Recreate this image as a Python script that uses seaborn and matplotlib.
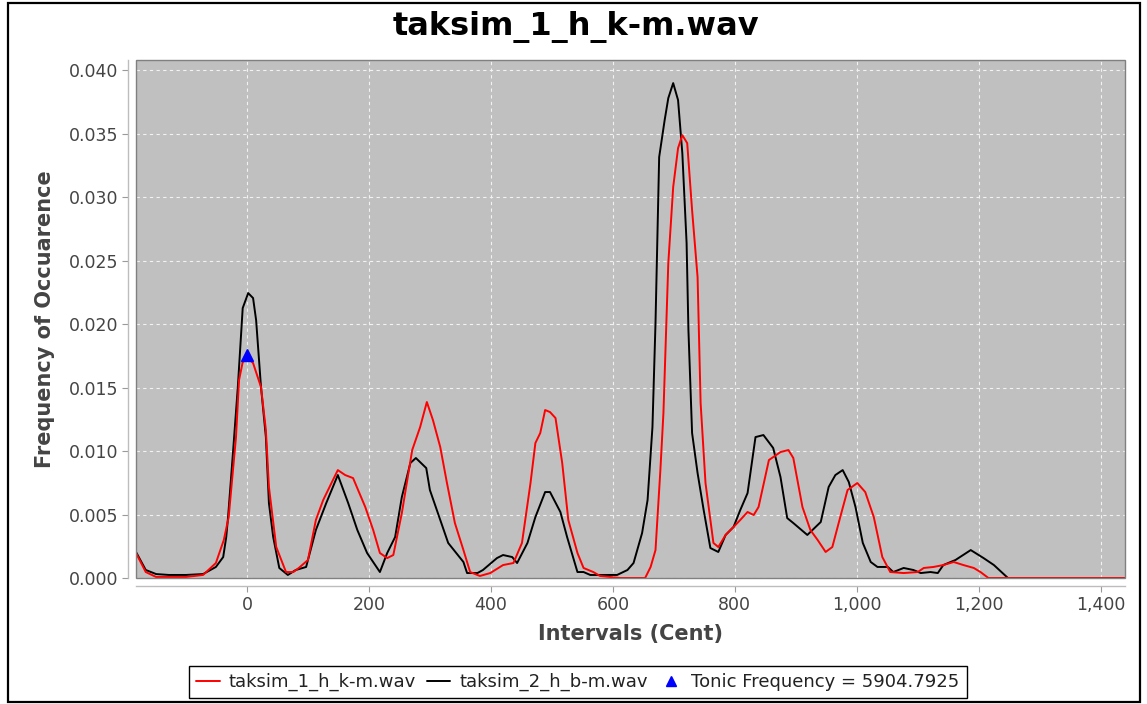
import matplotlib
matplotlib.use("Agg")
import matplotlib.pyplot as plt
from matplotlib.lines import Line2D
from matplotlib.patches import Rectangle
from matplotlib.ticker import FuncFormatter, MultipleLocator
import pandas as pd
import seaborn as sns

# Interval histograms (cents vs. relative frequency of occurrence)
cents_1 = [-182, -166, -149, -100, -72, -51, -38, -30, -18, -13, -7, 2, 10, 23, 31, 36, 48, 64,
           76, 85, 100, 113, 125, 141, 149, 161, 174, 194, 207, 218, 230, 240, 254, 271, 284,
           295, 305, 317, 328, 341, 355, 366, 382, 399, 420, 437, 451, 465, 473, 481, 489, 497,
           506, 517, 527, 542, 552, 568, 579, 612, 653, 662, 670, 678, 683, 691, 699, 707, 714,
           722, 730, 739, 744, 752, 765, 773, 785, 798, 809, 821, 831, 839, 856, 875, 888, 896,
           911, 924, 936, 949, 960, 973, 985, 1001, 1014, 1028, 1042, 1055, 1077, 1100, 1110,
           1126, 1142, 1159, 1175, 1192, 1203, 1216, 1300, 1440]
freq_1 = [0.00197, 0.00047, 0.00008, 0.00008, 0.00024, 0.00118, 0.00299, 0.0048, 0.0111, 0.01559,
          0.01701, 0.01732, 0.01693, 0.01504, 0.01165, 0.00717, 0.00244, 0.00047, 0.00047, 0.00079,
          0.00142, 0.00457, 0.00614, 0.00772, 0.0085, 0.00811, 0.00787, 0.00559, 0.00378, 0.00197,
          0.00157, 0.00181, 0.00512, 0.01008, 0.01189, 0.01386, 0.01244, 0.01031, 0.00748, 0.00433,
          0.0022, 0.00047, 0.00016, 0.00039, 0.00102, 0.00118, 0.00276, 0.00748, 0.01063, 0.01142,
          0.01323, 0.01307, 0.0126, 0.00906, 0.00457, 0.00197, 0.00079, 0.00047, 0.00016, 0.0,
          0.0, 0.00087, 0.0022, 0.0085, 0.01299, 0.0248, 0.03079, 0.03386, 0.03488, 0.03425,
          0.02898, 0.0237, 0.01378, 0.00748, 0.00276, 0.00244, 0.00339, 0.00402, 0.00457, 0.0052,
          0.00496, 0.00559, 0.00929, 0.00992, 0.01008, 0.00945, 0.00559, 0.00378, 0.00299, 0.00205,
          0.00244, 0.0048, 0.00693, 0.00748, 0.00677, 0.0048, 0.00165, 0.00047, 0.00039, 0.00047,
          0.00079, 0.00087, 0.00102, 0.00126, 0.00102, 0.00079, 0.00047, 0.0, 0.0, 0.0]

cents_2 = [-182, -166, -149, -128, -100, -72, -51, -39, -34, -31, -23, -15, -7, 2, 10, 15, 23, 31,
           36, 43, 53, 67, 80, 97, 113, 130, 149, 166, 181, 197, 218, 230, 243, 254, 268, 277,
           294, 300, 317, 330, 355, 361, 378, 387, 410, 420, 435, 443, 460, 473, 489, 497, 514,
           525, 542, 552, 563, 579, 607, 624, 634, 648, 657, 665, 670, 676, 685, 691, 699, 707,
           714, 721, 724, 730, 739, 749, 760, 773, 785, 798, 809, 821, 834, 847, 863, 875, 886,
           896, 919, 941, 954, 965, 977, 987, 998, 1010, 1023, 1034, 1051, 1060, 1077, 1093,
           1105, 1121, 1133, 1142, 1154, 1162, 1187, 1208, 1225, 1248, 1300, 1440]
freq_2 = [0.00205, 0.00063, 0.00031, 0.00024, 0.00024, 0.00031, 0.00087, 0.00165, 0.00323, 0.0048,
          0.00984, 0.01504, 0.02126, 0.02244, 0.02205, 0.02031, 0.01504, 0.0111, 0.0059, 0.00323,
          0.00079, 0.00024, 0.00063, 0.00087, 0.00378, 0.0059, 0.00811, 0.0059, 0.00378, 0.00197,
          0.00047, 0.00197, 0.00323, 0.00638, 0.00906, 0.00945, 0.00866, 0.00693, 0.00457, 0.00276,
          0.00126, 0.00039, 0.00039, 0.00063, 0.00157, 0.00181, 0.00165, 0.00118, 0.00276, 0.0048,
          0.00677, 0.00677, 0.0052, 0.00323, 0.00047, 0.00047, 0.00024, 0.00024, 0.00024, 0.00063,
          0.00118, 0.00354, 0.00614, 0.01189, 0.02008, 0.03315, 0.03606, 0.0378, 0.03898, 0.03764,
          0.03346, 0.02638, 0.01953, 0.01142, 0.00827, 0.00535, 0.00236, 0.00205, 0.00339, 0.00402,
          0.00535, 0.00669, 0.0111, 0.01126, 0.01024, 0.00795, 0.00472, 0.00433, 0.00339, 0.00441,
          0.00717, 0.00811, 0.0085, 0.00756, 0.00559, 0.00276, 0.00126, 0.00087, 0.00087, 0.00047,
          0.00079, 0.00063, 0.00039, 0.00047, 0.00039, 0.00102, 0.00126, 0.00142, 0.0022, 0.00157,
          0.00102, 0.0, 0.0, 0.0]

series_names = ["taksim_1_h_k-m.wav", "taksim_2_h_b-m.wav"]
series_colors = ["#ff0000", "#000000"]
tonic_cent = 0
tonic_freq = 0.0176
tonic_label = "Tonic Frequency = 5904.7925"

df1 = pd.DataFrame({"cent": cents_1, "freq": freq_1})
df2 = pd.DataFrame({"cent": cents_2, "freq": freq_2})

sns.set_theme(style="white")
plt.rcParams["font.family"] = ["DejaVu Sans"]

fig = plt.figure(figsize=(11.47, 7.04), dpi=100)
ax = fig.add_axes([136 / 1147, 1 - 578 / 704, (1125 - 136) / 1147, (578 - 60) / 704])
ax.set_facecolor("#c0c0c0")

# second file drawn first so the first file sits on top
sns.lineplot(data=df2, x="cent", y="freq", color=series_colors[1], lw=1.4,
             estimator=None, sort=False, ax=ax, zorder=3)
sns.lineplot(data=df1, x="cent", y="freq", color=series_colors[0], lw=1.4,
             estimator=None, sort=False, ax=ax, zorder=4)
ax.plot([tonic_cent], [tonic_freq], linestyle="none", marker="^", color="#0000ff",
        markersize=8.5, zorder=5)

ax.set_xlim(-182, 1440)
ax.set_ylim(0, 0.0408)
ax.xaxis.set_major_locator(MultipleLocator(200))
ax.yaxis.set_major_locator(MultipleLocator(0.005))
ax.xaxis.set_major_formatter(FuncFormatter(lambda v, p: f"{v:,.0f}"))
ax.yaxis.set_major_formatter(FuncFormatter(lambda v, p: f"{v:.3f}"))
ax.grid(True, color="#f2f2f2", linestyle=(0, (3, 3)), linewidth=0.8)
ax.set_axisbelow(True)

for side in ("top", "right"):
    ax.spines[side].set_visible(False)
ax.spines["left"].set_position(("outward", 6))
ax.spines["bottom"].set_position(("outward", 6))
for side in ("left", "bottom"):
    ax.spines[side].set_color("#bdbdbd")
    ax.spines[side].set_linewidth(1.0)
ax.tick_params(axis="both", which="major", direction="out", length=4, width=0.8,
               color="#9a9a9a", labelsize=12.5, labelcolor="#444444", pad=3,
               left=True, bottom=True)

# plot outline
ax.add_patch(Rectangle((0, 0), 1, 1, transform=ax.transAxes, fill=False,
                       edgecolor="#808080", linewidth=1.0, clip_on=False, zorder=6))

ax.set_xlabel("Intervals (Cent)", fontsize=15, fontweight="bold", color="#444444", labelpad=7)
ax.set_ylabel("Frequency of Occuarence", fontsize=15, fontweight="bold", color="#444444",
              labelpad=10)
fig.text(0.502, 1 - 27 / 704, "taksim_1_h_k-m.wav", ha="center", va="center",
         fontsize=23, fontweight="bold", color="black")

handles = [Line2D([], [], color=series_colors[0], lw=1.4),
           Line2D([], [], color=series_colors[1], lw=1.4),
           Line2D([], [], color="#0000ff", marker="^", linestyle="none", markersize=7.5)]
leg = fig.legend(handles, series_names + [tonic_label], loc="center",
                 bbox_to_anchor=(578 / 1147, 1 - 682 / 704), ncol=3, fontsize=13,
                 frameon=True, fancybox=False, framealpha=1, edgecolor="black",
                 handlelength=1.3, handletextpad=0.5, columnspacing=0.6,
                 borderpad=0.4, borderaxespad=0)
leg.get_frame().set_linewidth(1.0)
for t in leg.get_texts():
    t.set_color("#222222")

# figure border
fig.add_artist(Rectangle((8 / 1147, 2 / 704), (1140 - 8) / 1147, (702 - 3) / 704,
                         transform=fig.transFigure, fill=False, edgecolor="black",
                         linewidth=1.6))

fig.savefig("out.png", dpi=100, facecolor="white")
